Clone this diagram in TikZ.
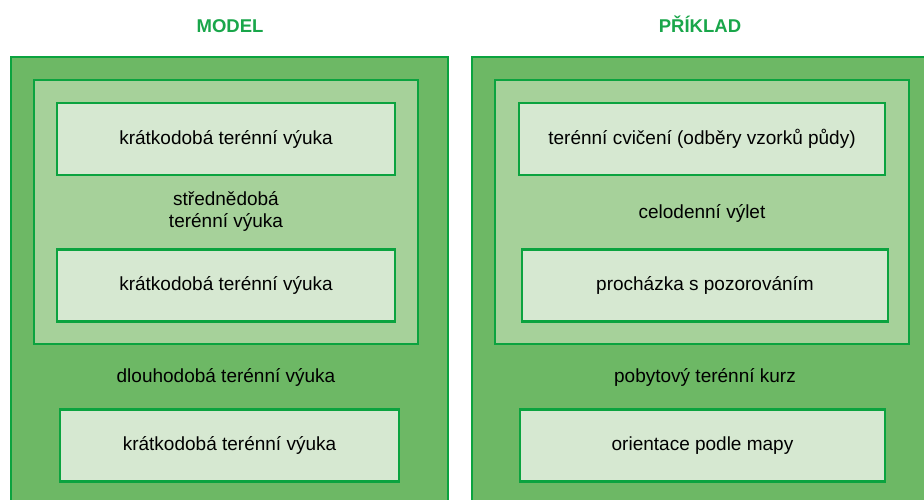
\documentclass[tikz,border=0pt]{standalone}
\usepackage{fontspec}
\setmainfont{Liberation Sans}
\definecolor{edgegreen}{HTML}{0BA33F}
\definecolor{titlegreen}{HTML}{19A64A}
\definecolor{darkfill}{HTML}{6DB865}
\definecolor{midfill}{HTML}{A6D19A}
\definecolor{lightfill}{HTML}{D6E8D1}
\tikzset{
  anybox/.style={draw=edgegreen, line width=2.7pt, inner sep=0pt},
  longbox/.style={anybox, fill=darkfill},
  midbox/.style={anybox, fill=midfill},
  shortbox/.style={anybox, fill=lightfill, minimum height=72pt,
    font=\fontsize{19}{22}\selectfont},
  lbl/.style={align=center, font=\fontsize{19}{22}\selectfont},
  heading/.style={anchor=base, text=titlegreen, font=\fontsize{18.5}{22}\selectfont\bfseries}
}
\begin{document}
\begin{tikzpicture}[x=1pt, y=-1pt]
  \useasboundingbox (0,0) rectangle (924,499);
  \clip (0,0) rectangle (924,499);
  % headings
  \node[heading] (hmodel) at (230,32) {MODEL};
  \node[heading] (hpriklad) at (700,32) {PŘÍKLAD};
  % left column: model
  \node[longbox, minimum width=437pt, minimum height=463pt] (mlong) at (229.5,288.5) {};
  \node[midbox, minimum width=384pt, minimum height=264pt] (mmid) at (226,212) {};
  \node[shortbox, minimum width=338pt] (mshortA) at (226,139) {krátkodobá terénní výuka};
  \node[lbl] (mmidlbl) at (226,211) {střednědobá\\terénní výuka};
  \node[shortbox, minimum width=338pt] (mshortB) at (226,285.5) {krátkodobá terénní výuka};
  \node[lbl] (mlonglbl) at (226,377) {dlouhodobá terénní výuka};
  \node[shortbox, minimum width=339pt] (mshortC) at (229.5,445.5) {krátkodobá terénní výuka};
  % right column: example
  \node[longbox, minimum width=468pt, minimum height=463pt] (plong) at (706,288.5) {};
  \node[midbox, minimum width=414pt, minimum height=264pt] (pmid) at (702,212) {};
  \node[shortbox, minimum width=366pt] (pshortA) at (702,139) {terénní cvičení (odběry vzorků půdy)};
  \node[lbl] (pmidlbl) at (702,213) {celodenní výlet};
  \node[shortbox, minimum width=366pt] (pshortB) at (705,285.5) {procházka s pozorováním};
  \node[lbl] (plonglbl) at (705,377) {pobytový terénní kurz};
  \node[shortbox, minimum width=365pt] (pshortC) at (702.5,445.5) {orientace podle mapy};
\end{tikzpicture}
\end{document}
